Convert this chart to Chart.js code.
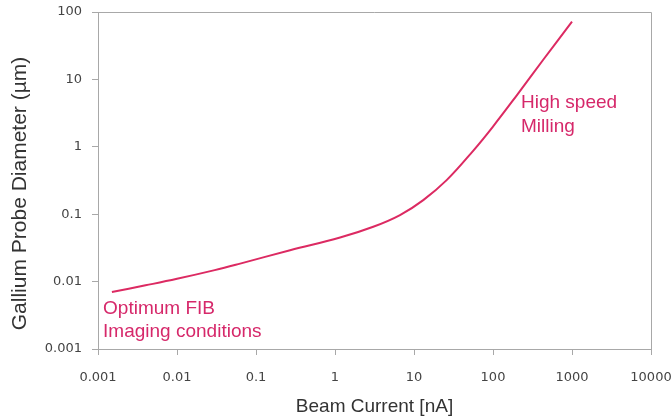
<!DOCTYPE html>
<html>
<head>
<meta charset="utf-8">
<script src="https://cdn.jsdelivr.net/npm/chart.js@4.4.1/dist/chart.umd.min.js"></script>
<style>
  html, body { margin: 0; padding: 0; background: #fff; }
  #wrap { width: 672px; height: 418px; }
</style>
</head>
<body>
<div id="wrap"><canvas id="probeChart"></canvas></div>
<script>
// beam current (nA) vs gallium probe diameter (µm)
const beamCurrent = [0.0015, 0.004, 0.01, 0.03, 0.063, 0.27, 1.16, 3.05, 6.65, 13.1, 25.9, 56.4, 100, 200, 430, 1000];
const probeDiameter = [0.007, 0.0088, 0.011, 0.0148, 0.0185, 0.0292, 0.045, 0.065, 0.097, 0.162, 0.32, 0.88, 2.0, 5.8, 19.4, 72];

const xTickValues = [0.001, 0.01, 0.1, 1, 10, 100, 1000, 10000];
const xTickLabels = ['0.001', '0.01', '0.1', '1', '10', '100', '1000', '10000'];
const yTickValues = [0.001, 0.01, 0.1, 1, 10, 100];
const yTickLabels = ['0.001', '0.01', '0.1', '1', '10', '100'];

// annotation texts, anchored in data coordinates (left edge, line centre)
const noteLines = ['Optimum FIB', 'Imaging conditions', 'High speed', 'Milling'];
const noteX = [0.00116, 0.00116, 226, 226];
const noteY = [0.00399, 0.00182, 4.47, 1.97];

const yTitle = 'Gallium Probe Diameter (µm)';

const pink = '#dc2a62';
const axisGrey = '#a8a8a8';
const fontFamily = '"Liberation Sans", Arial, sans-serif';
const tickFamily = '"DejaVu Sans", sans-serif';

const framePlugin = {
  id: 'frame',
  afterDraw(chart) {
    const { ctx, chartArea: a, scales } = chart;
    ctx.save();
    ctx.strokeStyle = axisGrey;
    ctx.lineWidth = 1;
    ctx.beginPath();
    ctx.moveTo(a.left, a.top + 0.5);
    ctx.lineTo(a.right + 0.5, a.top + 0.5);
    ctx.lineTo(a.right + 0.5, a.bottom);
    ctx.stroke();

    // notes on the curve
    ctx.fillStyle = '#d6286a';
    ctx.font = '19px ' + fontFamily;
    ctx.textAlign = 'left';
    ctx.textBaseline = 'middle';
    noteLines.forEach((t, i) => {
      ctx.fillText(t, scales.x.getPixelForValue(noteX[i]), scales.y.getPixelForValue(noteY[i]));
    });

    // y axis title, sits a bit below the plot centre in the original
    ctx.fillStyle = '#333';
    ctx.font = '21px ' + fontFamily;
    ctx.textAlign = 'center';
    ctx.translate(20, (a.top + a.bottom) / 2 + 13);
    ctx.rotate(-Math.PI / 2);
    ctx.fillText(yTitle, 0, 0);
    ctx.restore();
  }
};

function fixedTicks(values) {
  return scale => { scale.ticks = values.map(v => ({ value: v })); };
}

new Chart(document.getElementById('probeChart'), {
  type: 'line',
  data: {
    datasets: [{
      data: beamCurrent.map((x, i) => ({ x: x, y: probeDiameter[i] })),
      borderColor: pink,
      borderWidth: 2,
      pointRadius: 0,
      tension: 0.4,
      fill: false
    }]
  },
  options: {
    responsive: true,
    maintainAspectRatio: false,
    animation: false,
    layout: { padding: { left: 0, top: 12, right: 0, bottom: 0 } },
    plugins: {
      legend: { display: false },
      tooltip: { enabled: false }
    },
    scales: {
      x: {
        type: 'logarithmic',
        min: 0.001,
        max: 10000,
        afterBuildTicks: fixedTicks(xTickValues),
        afterFit: scale => {
          scale.height = 69;
          scale.paddingLeft = 0;
          scale.paddingRight = 21;
        },
        grid: { drawOnChartArea: false, color: axisGrey, tickLength: 6 },
        border: { color: axisGrey },
        ticks: {
          autoSkip: false,
          maxRotation: 0,
          padding: 15,
          color: '#444',
          font: { family: tickFamily, size: 13 },
          callback: (v, i) => xTickLabels[i]
        },
        title: {
          display: true,
          text: 'Beam Current [nA]',
          color: '#333',
          font: { family: fontFamily, size: 19 },
          padding: { top: 0, bottom: 0 }
        }
      },
      y: {
        type: 'logarithmic',
        min: 0.001,
        max: 100,
        afterBuildTicks: fixedTicks(yTickValues),
        afterFit: scale => {
          scale.width = 98;
          scale.paddingTop = 0;
          scale.paddingBottom = 0;
        },
        grid: { drawOnChartArea: false, color: axisGrey, tickLength: 6 },
        border: { color: axisGrey },
        ticks: {
          autoSkip: false,
          padding: 10,
          color: '#444',
          font: { family: tickFamily, size: 13 },
          callback: (v, i) => yTickLabels[i]
        },
        title: { display: false }
      }
    }
  },
  plugins: [framePlugin]
});
</script>
</body>
</html>
